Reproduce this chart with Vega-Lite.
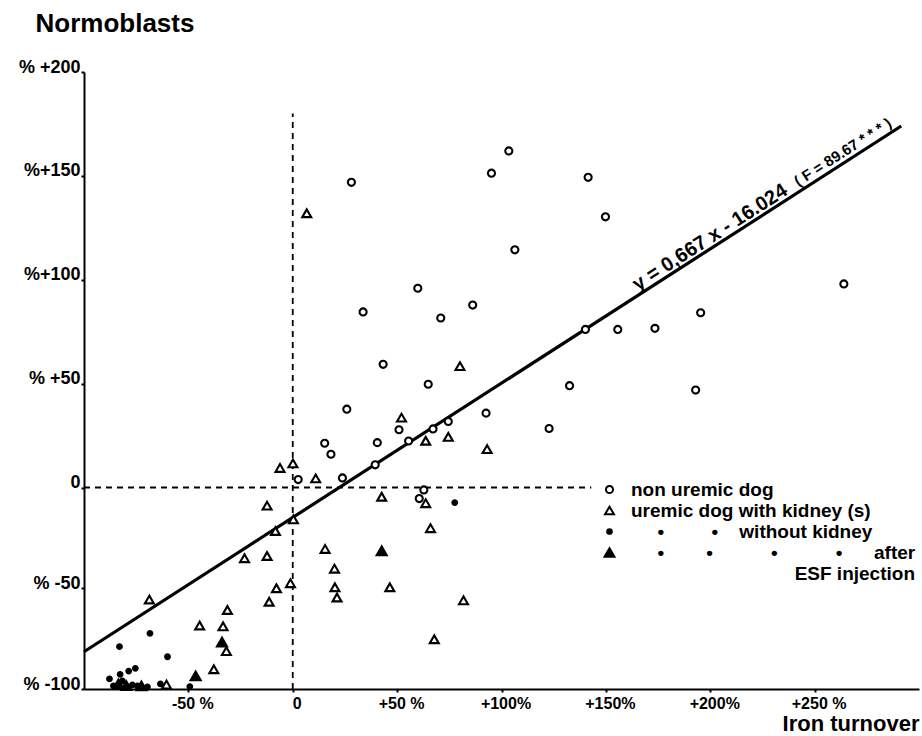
{
  "$schema": "https://vega.github.io/schema/vega-lite/v6.json",
  "width": 835,
  "height": 617,
  "autosize": {"type": "none"},
  "padding": {"left": 84, "top": 72, "right": 3, "bottom": 47},
  "background": "white",
  "config": {"view": {"stroke": null}, "font": "Liberation Sans"},
  "datasets": {
    "fit": [{"iron": -100, "normo": -81.5}, {"iron": 291.5, "normo": 174}],
    "hline": [{"iron": -100, "normo": 0}, {"iron": 143, "normo": 0}],
    "vline": [{"iron": 0, "normo": -100}, {"iron": 0, "normo": 180}],
    "points": [
      {"group": "non uremic dog", "iron": 103.5, "normo": 162},
      {"group": "non uremic dog", "iron": 95.2, "normo": 151.3},
      {"group": "non uremic dog", "iron": 28.1, "normo": 146.9},
      {"group": "non uremic dog", "iron": 106.4, "normo": 114.4},
      {"group": "non uremic dog", "iron": 59.9, "normo": 95.9},
      {"group": "non uremic dog", "iron": 86.2, "normo": 87.8},
      {"group": "non uremic dog", "iron": 33.7, "normo": 84.5},
      {"group": "non uremic dog", "iron": 70.9, "normo": 81.6},
      {"group": "non uremic dog", "iron": 43.3, "normo": 59.3},
      {"group": "non uremic dog", "iron": 64.9, "normo": 49.7},
      {"group": "non uremic dog", "iron": 132.6, "normo": 49},
      {"group": "non uremic dog", "iron": 193, "normo": 46.9},
      {"group": "non uremic dog", "iron": 25.9, "normo": 37.7},
      {"group": "non uremic dog", "iron": 92.6, "normo": 35.8},
      {"group": "non uremic dog", "iron": 122.8, "normo": 28.4},
      {"group": "non uremic dog", "iron": 74.5, "normo": 31.8},
      {"group": "non uremic dog", "iron": 67.2, "normo": 28.2},
      {"group": "non uremic dog", "iron": 50.9, "normo": 27.8},
      {"group": "non uremic dog", "iron": 55.5, "normo": 22.4},
      {"group": "non uremic dog", "iron": 15.3, "normo": 21.3},
      {"group": "non uremic dog", "iron": 40.5, "normo": 21.6},
      {"group": "non uremic dog", "iron": 18.3, "normo": 16},
      {"group": "non uremic dog", "iron": 39.5, "normo": 10.9},
      {"group": "non uremic dog", "iron": 2.6, "normo": 3.8},
      {"group": "non uremic dog", "iron": 23.8, "normo": 4.6},
      {"group": "non uremic dog", "iron": 62.8, "normo": -1.2},
      {"group": "non uremic dog", "iron": 60.6, "normo": -5.5},
      {"group": "non uremic dog", "iron": 141.5, "normo": 149.3},
      {"group": "non uremic dog", "iron": 149.8, "normo": 130.3},
      {"group": "non uremic dog", "iron": 264, "normo": 98},
      {"group": "non uremic dog", "iron": 195.4, "normo": 84.1},
      {"group": "non uremic dog", "iron": 140.2, "normo": 76.1},
      {"group": "non uremic dog", "iron": 155.7, "normo": 76.1},
      {"group": "non uremic dog", "iron": 173.5, "normo": 76.6},
      {"group": "uremic dog with kidney (s)", "iron": 6.7, "normo": 132},
      {"group": "uremic dog with kidney (s)", "iron": 80.1, "normo": 58.4},
      {"group": "uremic dog with kidney (s)", "iron": 52.1, "normo": 33.6},
      {"group": "uremic dog with kidney (s)", "iron": 74.5, "normo": 24.4},
      {"group": "uremic dog with kidney (s)", "iron": 63.7, "normo": 22.5},
      {"group": "uremic dog with kidney (s)", "iron": 93.1, "normo": 18.5},
      {"group": "uremic dog with kidney (s)", "iron": -6.1, "normo": 9.4},
      {"group": "uremic dog with kidney (s)", "iron": 0.1, "normo": 11.6},
      {"group": "uremic dog with kidney (s)", "iron": 11, "normo": 4.4},
      {"group": "uremic dog with kidney (s)", "iron": 42.6, "normo": -4.6},
      {"group": "uremic dog with kidney (s)", "iron": 63.7, "normo": -7.8},
      {"group": "uremic dog with kidney (s)", "iron": 0.3, "normo": -15.8},
      {"group": "uremic dog with kidney (s)", "iron": 66, "normo": -20.2},
      {"group": "uremic dog with kidney (s)", "iron": 15.5, "normo": -30.5},
      {"group": "uremic dog with kidney (s)", "iron": 20, "normo": -40.3},
      {"group": "uremic dog with kidney (s)", "iron": -1.1, "normo": -47.5},
      {"group": "uremic dog with kidney (s)", "iron": 20.2, "normo": -49.5},
      {"group": "uremic dog with kidney (s)", "iron": 46.5, "normo": -49.5},
      {"group": "uremic dog with kidney (s)", "iron": 21.2, "normo": -54.6},
      {"group": "uremic dog with kidney (s)", "iron": 81.8, "normo": -56},
      {"group": "uremic dog with kidney (s)", "iron": 67.8, "normo": -75.3},
      {"group": "uremic dog with kidney (s)", "iron": -12.3, "normo": -9},
      {"group": "uremic dog with kidney (s)", "iron": -8.3, "normo": -21.6},
      {"group": "uremic dog with kidney (s)", "iron": -23.1, "normo": -35.1},
      {"group": "uremic dog with kidney (s)", "iron": -12.3, "normo": -34},
      {"group": "uremic dog with kidney (s)", "iron": -7.8, "normo": -50},
      {"group": "uremic dog with kidney (s)", "iron": -11.3, "normo": -56.7},
      {"group": "uremic dog with kidney (s)", "iron": -68.7, "normo": -55.6},
      {"group": "uremic dog with kidney (s)", "iron": -31.3, "normo": -60.8},
      {"group": "uremic dog with kidney (s)", "iron": -44.6, "normo": -68.5},
      {"group": "uremic dog with kidney (s)", "iron": -33.4, "normo": -68.9},
      {"group": "uremic dog with kidney (s)", "iron": -31.8, "normo": -81.2},
      {"group": "uremic dog with kidney (s)", "iron": -37.8, "normo": -90.2},
      {"group": "uremic dog with kidney (s)", "iron": -60.5, "normo": -97.8},
      {"group": "uremic dog without kidney", "iron": 77.6, "normo": -7.5},
      {"group": "uremic dog without kidney", "iron": -68.4, "normo": -72.4},
      {"group": "uremic dog without kidney", "iron": -83, "normo": -79},
      {"group": "uremic dog without kidney", "iron": -60, "normo": -84},
      {"group": "uremic dog without kidney", "iron": -87.8, "normo": -95},
      {"group": "uremic dog without kidney", "iron": -82.7, "normo": -92.7},
      {"group": "uremic dog without kidney", "iron": -78.6, "normo": -91.1},
      {"group": "uremic dog without kidney", "iron": -75.4, "normo": -89.8},
      {"group": "uremic dog without kidney", "iron": -63.4, "normo": -97.5},
      {"group": "uremic dog without kidney", "iron": -49.3, "normo": -98.8},
      {"group": "uremic dog without kidney", "iron": -81.6, "normo": -96},
      {"group": "uremic dog without kidney", "iron": -76.8, "normo": -98},
      {"group": "uremic dog without kidney", "iron": -74.4, "normo": -98.5},
      {"group": "uremic dog without kidney", "iron": -69.6, "normo": -99},
      {"group": "uremic dog without kidney", "iron": -85.9, "normo": -98.5},
      {"group": "uremic dog with kidney (s) after ESF injection", "iron": 42.6, "normo": -31.4},
      {"group": "uremic dog with kidney (s) after ESF injection", "iron": -33.9, "normo": -76.7},
      {"group": "uremic dog with kidney (s) after ESF injection", "iron": -46.5, "normo": -93.5},
      {"group": "uremic dog with kidney (s) after ESF injection", "iron": -83.5, "normo": -97.5},
      {"group": "uremic dog with kidney (s) after ESF injection", "iron": -79.7, "normo": -98.3},
      {"group": "uremic dog with kidney (s) after ESF injection", "iron": -72.5, "normo": -98.5}
    ]
  },
  "encoding": {
    "x": {
      "field": "iron", "type": "quantitative",
      "scale": {"domain": [-100, 300], "nice": false, "zero": false},
      "axis": {
        "title": "Iron turnover", "titleFont": "Liberation Sans", "titleFontSize": 22, "titleFontWeight": "bold", "titleColor": "black",
        "titleAlign": "right", "titleBaseline": "alphabetic", "titleX": 835, "titleY": 41,
        "values": [-50, 0, 50, 100, 150, 200, 250],
        "labelExpr": "datum.value == 0 ? '0' : datum.value == -50 ? '-50 %' : datum.value == 250 ? '+250 %' : datum.value == 50 ? '+50 %' : '+' + datum.value + '%'",
        "labelFont": "Liberation Sans", "labelFontSize": 16, "labelFontWeight": "bold", "labelColor": "black",
        "labelPadding": 3, "labelFlush": false, "labelOverlap": false, "labelOffset": 4,
        "domainColor": "black", "domainWidth": 2, "tickColor": "black", "tickSize": 3, "tickWidth": 2, "grid": false
      }
    },
    "y": {
      "field": "normo", "type": "quantitative",
      "scale": {"domain": [-100, 0, 200], "range": [617, 415.5, 0], "nice": false, "zero": false},
      "axis": {
        "title": "Normoblasts", "titleFont": "Liberation Sans", "titleFontSize": 26, "titleFontWeight": "bold", "titleColor": "black",
        "titleAngle": 0, "titleAlign": "left", "titleBaseline": "alphabetic", "titleX": -49, "titleY": -41,
        "values": [-100, -50, 0, 50, 100, 150, 200],
        "labelExpr": "datum.value == 0 ? '0' : datum.value == 200 ? '% +200' : datum.value == 50 ? '% +50' : datum.value > 0 ? '%+' + datum.value : '% ' + datum.value",
        "labelFont": "Liberation Sans", "labelFontSize": 18, "labelFontWeight": "bold", "labelColor": "black",
        "labelBaseline": "alphabetic", "labelPadding": 1, "labelFlush": false, "labelOverlap": false,
        "domainColor": "black", "domainWidth": 2, "tickColor": "black", "tickSize": 3, "tickWidth": 2, "grid": false
      }
    }
  },
  "layer": [
    {
      "data": {"name": "hline"},
      "mark": {"type": "line", "strokeDash": [6, 5], "strokeWidth": 1.8, "color": "black"},
      "encoding": {}
    },
    {
      "data": {"name": "vline"},
      "mark": {"type": "line", "strokeDash": [6, 5], "strokeWidth": 1.8, "color": "black"},
      "encoding": {}
    },
    {
      "data": {"name": "fit"},
      "mark": {"type": "line", "color": "black", "strokeWidth": 3.2},
      "encoding": {}
    },
    {
      "data": {"name": "points"},
      "mark": {"type": "point", "filled": true, "stroke": "black", "strokeWidth": 2.1, "opacity": 1},
      "encoding": {
        "shape": {
          "field": "group", "type": "nominal",
          "scale": {"domain": ["non uremic dog", "uremic dog with kidney (s)", "uremic dog without kidney", "uremic dog with kidney (s) after ESF injection"], "range": ["circle", "triangle-up", "circle", "triangle-up"]},
          "legend": {
            "title": null, "orient": "none", "legendX": 516, "legendY": 408, "padding": 0,
            "labelFont": "Liberation Sans", "labelFontSize": 19, "labelFontWeight": "bold", "labelColor": "black", "labelLimit": 600,
            "labelOffset": 12, "rowPadding": 1, "symbolStrokeColor": "black", "symbolStrokeWidth": 2,
            "labelExpr": "datum.label == 'uremic dog without kidney' ? '\u2060\u00a0\u00a0\u00a0\u00a0\u00a0•\u00a0\u00a0\u00a0\u00a0\u00a0\u00a0\u00a0\u00a0\u00a0•\u00a0\u00a0\u00a0\u00a0without kidney' : datum.label == 'uremic dog with kidney (s) after ESF injection' ? ['\u2060\u00a0\u00a0\u00a0\u00a0\u00a0•\u00a0\u00a0\u00a0\u00a0\u00a0\u00a0\u00a0\u00a0•\u00a0\u00a0\u00a0\u00a0\u00a0\u00a0\u00a0\u00a0\u00a0\u00a0\u00a0•\u00a0\u00a0\u00a0\u00a0\u00a0\u00a0\u00a0\u00a0\u00a0\u00a0\u00a0•\u00a0\u00a0\u00a0\u00a0\u00a0\u00a0after', '\u2060\u00a0\u00a0\u00a0\u00a0\u00a0\u00a0\u00a0\u00a0\u00a0\u00a0\u00a0\u00a0\u00a0\u00a0\u00a0\u00a0\u00a0\u00a0\u00a0\u00a0\u00a0\u00a0\u00a0\u00a0\u00a0\u00a0\u00a0\u00a0\u00a0\u00a0\u00a0ESF injection'] : datum.label"
          }
        },
        "fill": {
          "field": "group", "type": "nominal",
          "scale": {"domain": ["non uremic dog", "uremic dog with kidney (s)", "uremic dog without kidney", "uremic dog with kidney (s) after ESF injection"], "range": ["white", "white", "black", "black"]}
        },
        "size": {
          "field": "group", "type": "nominal",
          "scale": {"type": "ordinal", "domain": ["non uremic dog", "uremic dog with kidney (s)", "uremic dog without kidney", "uremic dog with kidney (s) after ESF injection"], "range": [50, 80, 22, 100]}
        }
      }
    },
    {
      "data": {"values": [{"iron": 166.6, "normo": 92.5, "note": "y = 0,667 x - 16.024"}]},
      "mark": {"type": "text", "angle": 327.2, "align": "left", "baseline": "alphabetic", "dy": -5, "font": "Liberation Sans", "fontSize": 20, "fontWeight": "bold", "color": "black"},
      "encoding": {"text": {"field": "note"}}
    },
    {
      "data": {"values": [{"iron": 243.5, "normo": 142.8, "note": "( F = 89.67 * * * )"}]},
      "mark": {"type": "text", "angle": 327.2, "align": "left", "baseline": "alphabetic", "dy": -5, "font": "Liberation Sans", "fontSize": 15, "fontWeight": "bold", "color": "black"},
      "encoding": {"text": {"field": "note"}}
    }
  ]
}
